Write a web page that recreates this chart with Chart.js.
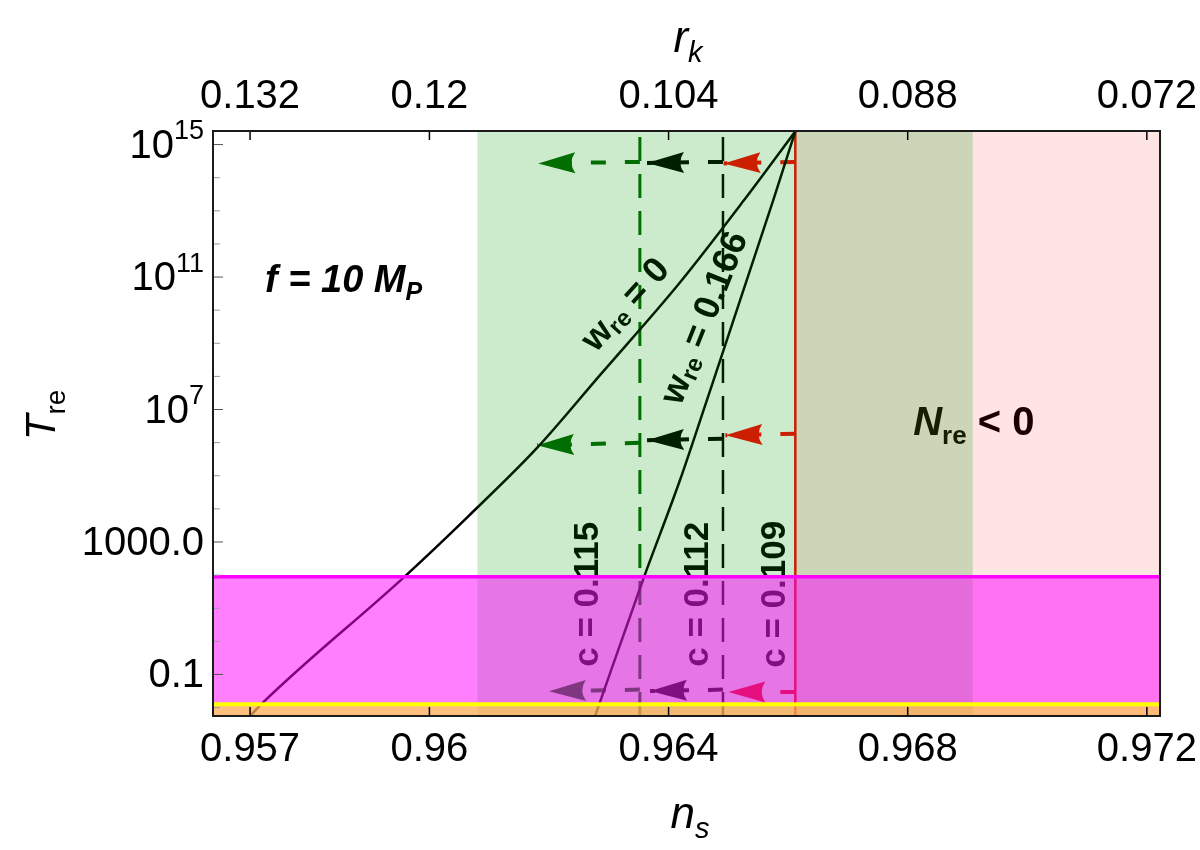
<!DOCTYPE html>
<html>
<head>
<meta charset="utf-8">
<script src="https://cdn.jsdelivr.net/npm/chart.js@4.4.0/dist/chart.umd.min.js"></script>
<style>
  html, body { margin: 0; padding: 0; background: #fff; }
  #wrap { width: 1200px; height: 850px; position: relative; }
</style>
</head>
<body>
<div id="wrap"><canvas id="reheat"></canvas></div>
<script>
// axis ranges
const nsRange = [0.95638, 0.97222];
const tRange  = [0.00557, 2.57e15];

// bottom (n_s) and top (r_k) ticks sit at the same places
const nsTicks  = [0.957, 0.96, 0.964, 0.968, 0.972];
const nsLabels = ['0.957', '0.96', '0.964', '0.968', '0.972'];
const rkLabels = ['0.132', '0.12', '0.104', '0.088', '0.072'];

// labelled T ticks as [base, exponent]
const tTicks  = [1e15, 1e11, 1e7, 1000, 0.1];
const tLabels = [['10', '15'], ['10', '11'], ['10', '7'], ['1000.0', ''], ['0.1', '']];

// T_re(n_s) curves
const nsW0   = [0.95700, 0.95721, 0.95959, 0.96065, 0.96180, 0.96286, 0.96418, 0.96526, 0.96612];
const tW0    = [0.0055, 0.0138, 92, 5970, 6.9e5, 1.13e8, 6.5e10, 2.07e13, 2.5e15];
const nsW166 = [0.96612, 0.96575, 0.96464, 0.96419, 0.96357, 0.96277];
const tW166  = [2.5e15, 2.07e13, 1.9e7, 7.3e4, 70, 0.0055];

// c lines
const cValues = ['0.115', '0.112', '0.109'];
const cNs     = [0.96352, 0.96491, 0.96612];

// arrows: red, black, green at three temperatures
const arrowFromNs = [0.96612, 0.96491, 0.96352, 0.96612, 0.96491, 0.96352, 0.96612, 0.96491, 0.96352];
const arrowFromT  = [3.0e14, 3.0e14, 3.0e14, 1.87e6, 1.32e6, 9.9e5, 0.0296, 0.0349, 0.0349];
const arrowToNs   = [0.96492, 0.96364, 0.96182, 0.96495, 0.96364, 0.96180, 0.96500, 0.96369, 0.96200];
const arrowToT    = [2.7e14, 2.8e14, 2.7e14, 1.67e6, 1.18e6, 8.3e5, 0.0296, 0.0317, 0.031];

// shaded regions
const greenBandNs = [0.96080, 0.96909];
const pinkBandNs  = [0.96613, 0.97222];
const ewT  = 90;
const bbnT = 0.0126;

const SANS = "'Liberation Sans', Arial, sans-serif";
const lineColors = ['#ff0000', '#000000', '#006400'];

const pts = (xs, ys) => xs.map((x, i) => ({ x: x, y: ys[i] }));

const datasets = [];
// overlays: lower order is drawn on top
datasets.push({ role: 'bbn', order: 1, data: pts(nsRange, [bbnT, bbnT]), borderColor: '#ffff00', borderWidth: 4, fill: 'start', backgroundColor: 'rgba(255,255,0,0.5)' });
datasets.push({ role: 'ew', order: 2, data: pts(nsRange, [ewT, ewT]), borderColor: '#ff00ff', borderWidth: 3.5, fill: 'start', backgroundColor: 'rgba(255,0,255,0.5)' });
datasets.push({ role: 'green', order: 3, data: pts(greenBandNs, [tRange[1], tRange[1]]), borderColor: 'rgba(0,0,0,0)', borderWidth: 0, fill: 'start', backgroundColor: 'rgba(0,150,0,0.2)' });
datasets.push({ role: 'pink', order: 4, data: pts(pinkBandNs, [tRange[1], tRange[1]]), borderColor: 'rgba(0,0,0,0)', borderWidth: 0, fill: 'start', backgroundColor: 'rgba(255,0,0,0.106)' });

datasets.push({ role: 'w0', order: 5, data: pts(nsW0, tW0), borderColor: '#000', borderWidth: 2.5, fill: false, cubicInterpolationMode: 'monotone' });
datasets.push({ role: 'w166', order: 10, data: pts(nsW166, tW166), borderColor: '#000', borderWidth: 2.5, fill: false, cubicInterpolationMode: 'monotone' });

cNs.forEach((ns, i) => {
  const dashed = i < 2;
  datasets.push({
    role: 'c', order: 10, data: pts([ns, ns], tRange),
    borderColor: lineColors[i === 0 ? 2 : i === 1 ? 1 : 0],
    borderWidth: i === 0 ? 3 : 2.5, borderDash: dashed ? [24, 13] : [], fill: false
  });
});

arrowFromNs.forEach((ns, i) => {
  datasets.push({
    role: 'arrow', order: 10,
    data: [{ x: ns, y: arrowFromT[i] }, { x: arrowToNs[i], y: arrowToT[i] }],
    borderColor: lineColors[i % 3], borderWidth: 4, borderDash: [15, 19], fill: false
  });
});

function rich(ctx, parts, x, y, align) {
  let w = 0;
  parts.forEach(p => { ctx.font = p.f; p.w = ctx.measureText(p.t).width; w += p.w; });
  let cx = align === 'center' ? x - w / 2 : align === 'right' ? x - w : x;
  ctx.textAlign = 'left';
  parts.forEach(p => { ctx.font = p.f; ctx.fillText(p.t, cx, y + (p.dy || 0)); cx += p.w; });
}

const annotations = {
  id: 'annotations',
  afterDatasetDraw(chart, args) {
    const ds = chart.data.datasets[args.index];
    const ctx = chart.ctx;
    const xs = chart.scales.x, ys = chart.scales.y;
    if (ds.role === 'arrow') {
      const a = args.meta.data[0], b = args.meta.data[1];
      const ang = Math.atan2(b.y - a.y, b.x - a.x);
      const L = 37, W = 10.5;
      ctx.save();
      ctx.translate(b.x, b.y);
      ctx.rotate(ang);
      ctx.fillStyle = ds.borderColor;
      ctx.beginPath();
      ctx.moveTo(0, 0);
      ctx.lineTo(-L, -W);
      ctx.quadraticCurveTo(-0.8 * L, 0, -L, W);
      ctx.closePath();
      ctx.fill();
      ctx.restore();
    }
    if (ds.role !== 'w0') return;
    // text sits under the shaded overlays
    ctx.save();
    ctx.fillStyle = '#000';
    ctx.textBaseline = 'middle';
    const bold = s => 'bold ' + s + 'px ' + SANS;
    [[0.96329, 1.4e10, -47.6, ' = 0'], [0.96461, 5.7e9, -68.3, ' = 0.166']].forEach(n => {
      ctx.save();
      ctx.translate(xs.getPixelForValue(n[0]), ys.getPixelForValue(n[1]));
      ctx.rotate(n[2] * Math.PI / 180);
      rich(ctx, [{ t: 'w', f: bold(36) }, { t: 're', f: bold(24), dy: 8 }, { t: n[3], f: bold(36) }], 0, 0, 'center');
      ctx.restore();
    });
    ctx.textBaseline = 'alphabetic';
    [0.962826, 0.964662, 0.965950].forEach((ns, i) => {
      ctx.save();
      ctx.translate(xs.getPixelForValue(ns), ys.getPixelForValue(26.4));
      ctx.rotate(-Math.PI / 2);
      rich(ctx, [{ t: 'c = ' + cValues[i], f: bold(35) }], 0, 0, 'center');
      ctx.restore();
    });
    rich(ctx, [{ t: 'N', f: 'italic bold 40px ' + SANS }, { t: 're', f: bold(26), dy: 9 }, { t: ' < 0', f: bold(40) }],
      xs.getPixelForValue(0.968091), ys.getPixelForValue(1.67e6), 'left');
    rich(ctx, [{ t: 'f = 10 M', f: 'italic bold 38px ' + SANS }, { t: 'P', f: 'italic bold 25px ' + SANS, dy: 8 }],
      xs.getPixelForValue(0.957251), ys.getPixelForValue(3.46e10), 'left');
    ctx.restore();
  },
  afterDraw(chart) {
    const ctx = chart.ctx;
    const { left, right, top, bottom } = chart.chartArea;
    const xs = chart.scales.x, ys = chart.scales.y;
    ctx.save();
    // inward ticks
    ctx.strokeStyle = '#000';
    ctx.lineWidth = 1.5;
    nsTicks.forEach(v => {
      const px = xs.getPixelForValue(v);
      ctx.beginPath();
      ctx.moveTo(px, bottom); ctx.lineTo(px, bottom - 9);
      ctx.moveTo(px, top); ctx.lineTo(px, top + 9);
      ctx.stroke();
    });
    for (let e = -2; e <= 15; e++) {
      const py = ys.getPixelForValue(Math.pow(10, e));
      const major = tTicks.some(t => Math.abs(Math.log10(t) - e) < 1e-6);
      ctx.strokeStyle = major ? '#555' : '#999';
      ctx.lineWidth = 1;
      ctx.beginPath();
      ctx.moveTo(left, py); ctx.lineTo(left + (major ? 10 : 7), py);
      ctx.stroke();
    }
    // frame
    ctx.strokeStyle = '#1a1a1a';
    ctx.lineWidth = 2;
    ctx.strokeRect(left, top, right - left, bottom - top);

    // T tick labels with superscripts
    ctx.fillStyle = '#000';
    ctx.textBaseline = 'middle';
    tTicks.forEach((v, i) => {
      const py = ys.getPixelForValue(v) + 2;
      const [base, sup] = tLabels[i];
      const parts = [{ t: base, f: '40px ' + SANS }];
      if (sup) parts.push({ t: sup, f: '27px ' + SANS, dy: -15 });
      rich(ctx, parts, left - 9, py, 'right');
    });

    // axis titles
    ctx.textBaseline = 'alphabetic';
    rich(ctx, [{ t: 'r', f: 'italic 44px ' + SANS }, { t: 'k', f: 'italic 29px ' + SANS, dy: 10 }], 688, 52, 'center');
    rich(ctx, [{ t: 'n', f: 'italic 44px ' + SANS }, { t: 's', f: 'italic 29px ' + SANS, dy: 10 }], 690, 828, 'center');
    ctx.save();
    ctx.translate(55, 415);
    ctx.rotate(-Math.PI / 2);
    rich(ctx, [{ t: 'T', f: 'italic 42px ' + SANS }, { t: 're', f: '28px ' + SANS, dy: 10 }], 0, 0, 'center');
    ctx.restore();
    ctx.restore();
  }
};

const xTickOpts = (labels, pad) => ({
  autoSkip: false, maxRotation: 0, minRotation: 0, padding: pad, color: '#000',
  font: { family: SANS, size: 40 },
  callback: (v, i) => labels[i]
});

// fixed box sizes so the frame lands where the reference has it
const fitX = h => s => { s.height = h; s.paddingLeft = 0; s.paddingRight = 0; };

new Chart(document.getElementById('reheat'), {
  type: 'line',
  data: { datasets: datasets },
  options: {
    responsive: true,
    maintainAspectRatio: false,
    animation: false,
    layout: { padding: { top: 0, right: 40, bottom: 0, left: 0 } },
    elements: { point: { radius: 0, hoverRadius: 0 }, line: { tension: 0 } },
    plugins: { legend: { display: false }, tooltip: { enabled: false } },
    scales: {
      x: {
        type: 'linear', position: 'bottom', min: nsRange[0], max: nsRange[1],
        grid: { display: false, drawTicks: false }, border: { display: false },
        afterBuildTicks: s => { s.ticks = nsTicks.map(v => ({ value: v })); },
        ticks: xTickOpts(nsLabels, 10),
        afterFit: fitX(134)
      },
      x2: {
        type: 'linear', position: 'top', min: nsRange[0], max: nsRange[1],
        grid: { display: false, drawTicks: false }, border: { display: false },
        afterBuildTicks: s => { s.ticks = nsTicks.map(v => ({ value: v })); },
        ticks: xTickOpts(rkLabels, 10),
        afterFit: fitX(131)
      },
      y: {
        type: 'logarithmic', min: tRange[0], max: tRange[1],
        grid: { display: false }, border: { display: false },
        ticks: { display: false },
        afterFit: s => { s.width = 213; s.paddingTop = 0; s.paddingBottom = 0; }
      }
    }
  },
  plugins: [annotations]
});
</script>
</body>
</html>
